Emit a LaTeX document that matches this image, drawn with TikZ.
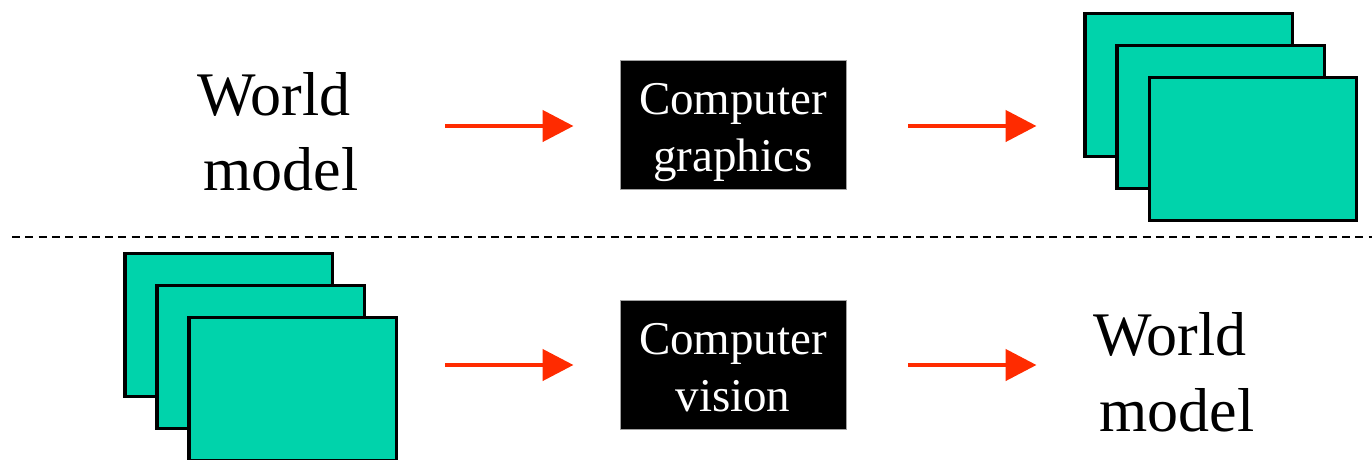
\documentclass[tikz,border=0pt]{standalone}
\usepackage{fontspec}
\setmainfont{Liberation Serif}
\usetikzlibrary{arrows.meta}
\definecolor{screengreen}{HTML}{00D3AB}
\definecolor{arrowred}{HTML}{FF2B00}
\definecolor{boxedge}{HTML}{A0A0A0}
\tikzset{
  screen/.style={draw=black, line width=3.3pt, fill=screengreen, minimum width=207.5pt, minimum height=143pt, inner sep=0pt},
  procbox/.style={draw=boxedge, line width=0.8pt, fill=black, minimum width=226pt, minimum height=129.5pt, inner sep=0pt},
  proctext/.style={text=white, inner sep=0pt, anchor=base, font=\fontsize{47pt}{57pt}\selectfont},
  worldtext/.style={text=black, inner sep=0pt, anchor=base, font=\fontsize{62pt}{74pt}\selectfont},
  flow/.style={draw=arrowred, line width=4.7pt, -{Triangle[length=31pt, width=31pt]}},
  divider/.style={draw=black, line width=2pt, dash pattern=on 8pt off 5.3pt}
}
\begin{document}
\begin{tikzpicture}[x=1pt, y=-1pt]
\useasboundingbox (0,0) rectangle (1372,459);
\clip (0,0) rectangle (1372,459);
% top row
\node[worldtext] (wm1a) at (274,115) {World};
\node[worldtext] (wm1b) at (281,190) {model};
\coordinate (a1s) at (445,126);
\coordinate (a1e) at (573.5,126);
\draw[flow] (a1s) -- (a1e);
\node[procbox] (cg) at (733.3,125) {};
\node[proctext] (cg1) at (733,114) {Computer};
\node[proctext] (cg2) at (733,171.5) {graphics};
\coordinate (a2s) at (908,126);
\coordinate (a2e) at (1036.5,126);
\draw[flow] (a2s) -- (a2e);
\node[screen] (s1) at (1188.7,84.7) {};
\node[screen] (s2) at (1220.7,116.7) {};
\node[screen] (s3) at (1253,148.7) {};
% divider
\coordinate (d1) at (12,237);
\coordinate (d2) at (1372,237);
\draw[divider] (d1) -- (d2);
% bottom row
\node[screen] (b1) at (228.8,324.7) {};
\node[screen] (b2) at (260.8,356.7) {};
\node[screen] (b3) at (292.8,388.9) {};
\coordinate (a3s) at (445,365);
\coordinate (a3e) at (573.5,365);
\draw[flow] (a3s) -- (a3e);
\node[procbox] (cv) at (733.3,365) {};
\node[proctext] (cv1) at (733,354) {Computer};
\node[proctext] (cv2) at (733,411.5) {vision};
\coordinate (a4s) at (908,365);
\coordinate (a4e) at (1036.5,365);
\draw[flow] (a4s) -- (a4e);
\node[worldtext] (wm2a) at (1170,355.7) {World};
\node[worldtext] (wm2b) at (1177,431.7) {model};
\end{tikzpicture}
\end{document}
